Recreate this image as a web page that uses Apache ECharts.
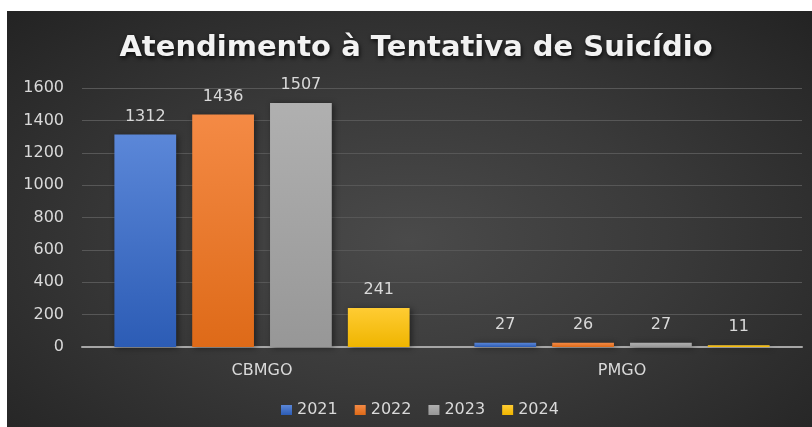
<!DOCTYPE html>
<html>
<head>
<meta charset="utf-8">
<script src="https://cdn.jsdelivr.net/npm/echarts@6/dist/echarts.min.js"></script>
<style>
    html, body { margin: 0; padding: 0; background: #ffffff; }
    #chart {
        position: absolute; left: 7px; top: 11px; width: 805px; height: 416px;
        background: radial-gradient(ellipse at 50% 55%, #4a4a4a 0%, #3a3a3a 45%, #232323 100%);
    }
</style>
</head>
<body>
<div id="chart"></div>
<script>
    // dados do gráfico
    var categories = ['CBMGO', 'PMGO'];
    var years = ['2021', '2022', '2023', '2024'];
    var values2021 = [1312, 27];
    var values2022 = [1436, 26];
    var values2023 = [1507, 27];
    var values2024 = [241, 11];
    var yTicks = [0, 200, 400, 600, 800, 1000, 1200, 1400, 1600];

    var seriesData = [values2021, values2022, values2023, values2024];
    var topColors = ['#5b87d8', '#f48a45', '#b0b0b0', '#ffcc33'];
    var bottomColors = ['#2c5cb5', '#de6a18', '#979797', '#efb500'];
    var legendColors = ['#4472c4', '#ed7d31', '#a5a5a5', '#ffc000'];
    var labelFont = 'DejaVu Sans';

    var myChart = echarts.init(document.getElementById('chart'));

    var series = [];
    for (var i = 0; i < years.length; i++) {
        series.push({
            name: years[i],
            type: 'bar',
            barGap: '26%',
            barCategoryGap: '18%',
            color: legendColors[i],
            itemStyle: {
                color: new echarts.graphic.LinearGradient(0, 0, 0, 1, [
                    {offset: 0, color: topColors[i]},
                    {offset: 1, color: bottomColors[i]}
                ]),
                shadowColor: 'rgba(0,0,0,0.45)',
                shadowBlur: 6,
                shadowOffsetX: 2,
                shadowOffsetY: 1
            },
            label: {
                show: true,
                position: 'top',
                distance: 10,
                color: '#d9d9d9',
                fontSize: 16,
                fontFamily: labelFont
            },
            data: seriesData[i]
        });
    }

    var option = {
        backgroundColor: 'transparent',
        title: {
            text: 'Atendimento à Tentativa de Suicídio',
            left: 404,
            textAlign: 'center',
            top: 18,
            textStyle: {
                color: '#f2f2f2',
                fontSize: 29,
                fontWeight: 'bold',
                fontFamily: 'DejaVu Sans',
                textShadowColor: 'rgba(0,0,0,0.8)',
                textShadowBlur: 4,
                textShadowOffsetX: 1,
                textShadowOffsetY: 2
            }
        },
        legend: {
            data: years,
            bottom: 4,
            left: 269,
            icon: 'rect',
            itemWidth: 11,
            itemHeight: 10,
            itemGap: 17,
            textStyle: {
                color: '#d9d9d9',
                fontSize: 16,
                fontFamily: labelFont
            }
        },
        grid: {
            left: 75,
            right: 10,
            top: 77,
            bottom: 80
        },
        xAxis: {
            type: 'category',
            data: categories,
            axisLine: {lineStyle: {color: '#a6a6a6', width: 2}},
            axisTick: {show: false},
            axisLabel: {color: '#d9d9d9', fontSize: 16, fontFamily: labelFont, margin: 16}
        },
        yAxis: {
            type: 'value',
            min: yTicks[0],
            max: yTicks[yTicks.length - 1],
            interval: 200,
            axisLine: {show: false},
            axisTick: {show: false},
            axisLabel: {
                color: '#d9d9d9', fontSize: 16, fontFamily: labelFont, margin: 18,
                formatter: function (v) { return String(v); }
            },
            splitLine: {lineStyle: {color: '#575757', width: 1}}
        },
        series: series
    };

    myChart.setOption(option);
</script>
</body>
</html>
